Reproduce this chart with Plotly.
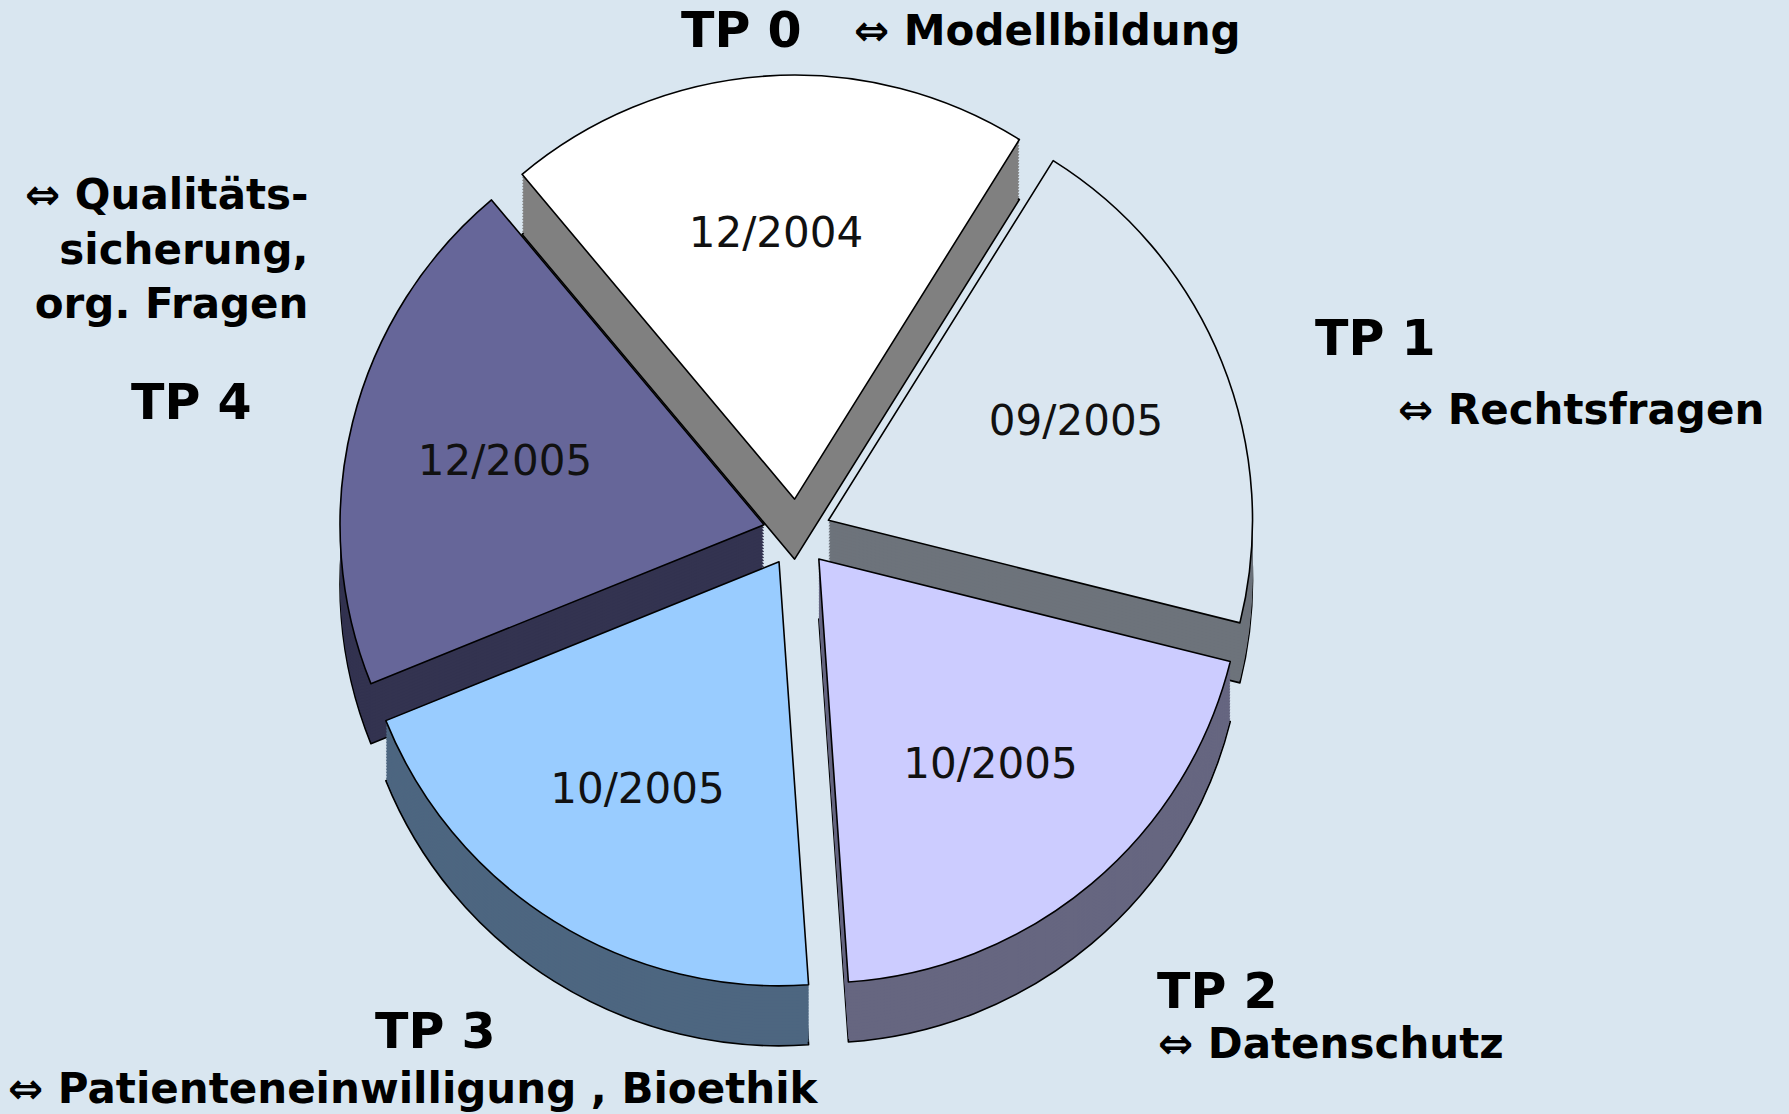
import plotly.graph_objects as go

# ---- data ----
packages = ["TP 0", "TP 1", "TP 2", "TP 3", "TP 4"]
topics = ["Modellbildung", "Rechtsfragen", "Datenschutz",
          "Patienteneinwilligung , Bioethik", "Qualitäts-<br>sicherung,<br>org. Fragen"]
dates = ["12/2004", "09/2005", "10/2005", "10/2005", "12/2005"]
shares = [1, 1, 1, 1, 1]
top_colors = ["#ffffff", "#dae6f0", "#ccccff", "#99ccff", "#666699"]
side_colors = ["#808080", "#6d737b", "#666680", "#4d6680", "#333350"]
pulls = [0.08, 0.08, 0.08, 0.08, 0.08]

W, H = 1789, 1114
BG = "#d9e6f0"
cx, cy, R = 797, 533, 458
depth = 60
n_layers = 20

fig = go.Figure()


def dom(shift):
    return dict(x=[(cx - R) / W, (cx + R) / W],
                y=[1 - (cy + shift + R) / H, 1 - (cy + shift - R) / H])


# side (depth) layers, deepest first
for i in range(n_layers, 0, -1):
    shift = depth * i / n_layers
    last = i == n_layers
    fig.add_trace(go.Pie(
        labels=packages, values=shares, sort=False, direction="clockwise",
        rotation=-40, pull=pulls, domain=dom(shift),
        marker=dict(colors=side_colors,
                    line=dict(color="black" if last else "rgba(0,0,0,0)",
                              width=1.6 if last else 0)),
        textinfo="none", hoverinfo="skip", showlegend=False,
    ))

# top surface
fig.add_trace(go.Pie(
    labels=packages, values=shares, sort=False, direction="clockwise",
    rotation=-40, pull=pulls, domain=dom(0),
    marker=dict(colors=top_colors, line=dict(color="black", width=1.6)),
    text=dates, textinfo="text", textposition="inside",
    insidetextorientation="horizontal",
    textfont=dict(family="DejaVu Sans", size=42, color="#111111"),
    hoverinfo="skip", showlegend=False,
))

bold = dict(family="DejaVu Sans", color="black")
ann = []


def add(text, x, y, size, xanchor="left", align="left"):
    ann.append(dict(text=text, x=x / W, y=1 - y / H, xref="paper", yref="paper",
                    xanchor=xanchor, yanchor="middle", showarrow=False, align=align,
                    font=dict(size=size, **bold)))


arrow = "⇔ "
TP, DS = 49, 42
add("<b>" + packages[0] + "</b>", 679, 31, TP)
add("<b>" + arrow + topics[0] + "</b>", 852, 31, DS)
add("<b>" + packages[1] + "</b>", 1313, 338, TP)
add("<b>" + arrow + topics[1] + "</b>", 1396, 409, DS)
add("<b>" + packages[2] + "</b>", 1155, 991, TP)
add("<b>" + arrow + topics[2] + "</b>", 1156, 1043, DS)
add("<b>" + packages[3] + "</b>", 373, 1031, TP)
add("<b>" + arrow + topics[3] + "</b>", 6, 1088, DS)
add("<b>" + packages[4] + "</b>", 129, 402, TP)
add("<b>" + arrow + topics[4].replace("<br>", "</b><br><b>") + "</b>", 310, 249, DS,
    xanchor="right", align="right")

fig.update_layout(
    width=W, height=H, autosize=False,
    margin=dict(l=0, r=0, t=0, b=0),
    paper_bgcolor=BG, plot_bgcolor=BG,
    annotations=ann, showlegend=False,
)

fig.write_html(
    "out.html",
    config={"displayModeBar": False},
    post_script="document.body.style.margin='0';document.body.style.background='" + BG + "';",
)
